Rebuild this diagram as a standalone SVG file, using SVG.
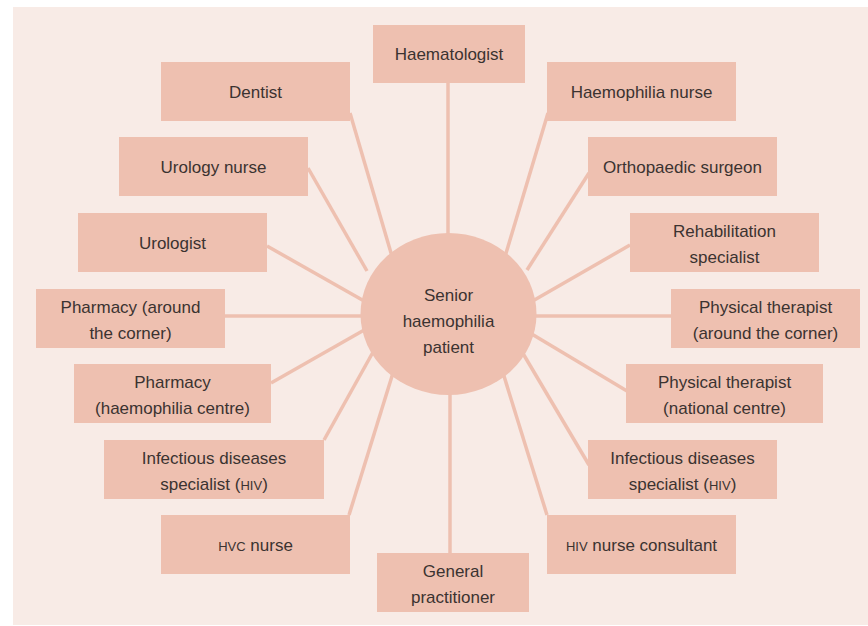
<svg xmlns="http://www.w3.org/2000/svg" width="868" height="626" viewBox="0 0 868 626">
<style>
.box{fill:#eec0b0}
.lbl{font-family:"Liberation Sans",Arial,sans-serif;font-size:17px;fill:#3b3331;text-anchor:middle}
.sc{font-size:13px}
.conn line{stroke:#eec0b0;stroke-width:3.5;stroke-linecap:butt}
</style>
<rect x="0" y="0" width="868" height="626" fill="#ffffff"/>
<rect x="13" y="7" width="855" height="618" fill="#f8ebe6"/>
<g id="connectors" class="conn">
<line x1="448" y1="83" x2="448" y2="250"/>
<line x1="350" y1="113" x2="396" y2="270"/>
<line x1="308" y1="168" x2="367" y2="271"/>
<line x1="267" y1="246" x2="380" y2="310"/>
<line x1="225" y1="316" x2="380" y2="316"/>
<line x1="271" y1="383" x2="380" y2="321"/>
<line x1="324" y1="440" x2="382" y2="336"/>
<line x1="349" y1="515" x2="397" y2="360"/>
<line x1="450" y1="553" x2="450" y2="370"/>
<line x1="547" y1="515" x2="499" y2="360"/>
<line x1="589" y1="465" x2="515" y2="340"/>
<line x1="627" y1="391" x2="515" y2="324"/>
<line x1="671" y1="316" x2="520" y2="316"/>
<line x1="630" y1="245" x2="517" y2="310"/>
<line x1="589" y1="173" x2="527" y2="270"/>
<line x1="548" y1="113" x2="501" y2="270"/>
</g>
<g id="center">
<ellipse cx="448.5" cy="314" rx="88" ry="81" class="box"/>
<text class="lbl" x="448.5" y="301">Senior</text>
<text class="lbl" x="448.5" y="327">haemophilia</text>
<text class="lbl" x="448.5" y="353">patient</text>
</g>
<g id="haematologist"><rect class="box" x="373" y="25" width="152" height="58"/><text class="lbl" x="449" y="60">Haematologist</text></g>
<g id="dentist"><rect class="box" x="161" y="62" width="189" height="59"/><text class="lbl" x="255.5" y="98">Dentist</text></g>
<g id="haemophilia-nurse"><rect class="box" x="547" y="62" width="189" height="59"/><text class="lbl" x="641.5" y="98">Haemophilia nurse</text></g>
<g id="urology-nurse"><rect class="box" x="119" y="137" width="189" height="59"/><text class="lbl" x="213.5" y="173">Urology nurse</text></g>
<g id="orthopaedic-surgeon"><rect class="box" x="588" y="137" width="189" height="59"/><text class="lbl" x="682.5" y="173">Orthopaedic surgeon</text></g>
<g id="urologist"><rect class="box" x="78" y="213" width="189" height="59"/><text class="lbl" x="172.5" y="249">Urologist</text></g>
<g id="rehabilitation-specialist"><rect class="box" x="630" y="213" width="189" height="59"/><text class="lbl" x="724.5" y="237">Rehabilitation</text><text class="lbl" x="724.5" y="263">specialist</text></g>
<g id="pharmacy-corner"><rect class="box" x="36" y="289" width="189" height="59"/><text class="lbl" x="130.5" y="313">Pharmacy (around</text><text class="lbl" x="130.5" y="339">the corner)</text></g>
<g id="physical-therapist-corner"><rect class="box" x="671" y="289" width="189" height="59"/><text class="lbl" x="765.5" y="313">Physical therapist</text><text class="lbl" x="765.5" y="339">(around the corner)</text></g>
<g id="pharmacy-centre"><rect class="box" x="74" y="364" width="197" height="59"/><text class="lbl" x="172.5" y="388">Pharmacy</text><text class="lbl" x="172.5" y="414">(haemophilia centre)</text></g>
<g id="physical-therapist-national"><rect class="box" x="626" y="364" width="197" height="59"/><text class="lbl" x="724.5" y="388">Physical therapist</text><text class="lbl" x="724.5" y="414">(national centre)</text></g>
<g id="infectious-left"><rect class="box" x="104" y="440" width="220" height="59"/><text class="lbl" x="214" y="464">Infectious diseases</text><text class="lbl" x="214" y="490">specialist (<tspan class="sc">HIV</tspan>)</text></g>
<g id="infectious-right"><rect class="box" x="588" y="440" width="189" height="59"/><text class="lbl" x="682.5" y="464">Infectious diseases</text><text class="lbl" x="682.5" y="490">specialist (<tspan class="sc">HIV</tspan>)</text></g>
<g id="hvc-nurse"><rect class="box" x="161" y="515" width="189" height="59"/><text class="lbl" x="255.5" y="551"><tspan class="sc">HVC</tspan> nurse</text></g>
<g id="general-practitioner"><rect class="box" x="377" y="553" width="152" height="59"/><text class="lbl" x="453" y="577">General</text><text class="lbl" x="453" y="603">practitioner</text></g>
<g id="hiv-nurse-consultant"><rect class="box" x="547" y="515" width="189" height="59"/><text class="lbl" x="641.5" y="551"><tspan class="sc">HIV</tspan> nurse consultant</text></g>
</svg>
